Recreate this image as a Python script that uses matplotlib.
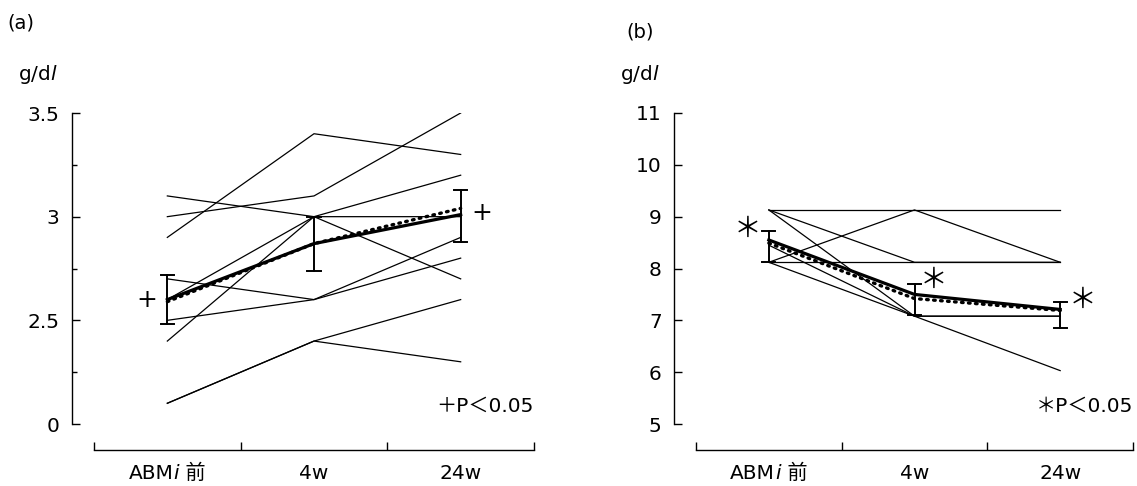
import matplotlib
matplotlib.use("Agg")
import matplotlib.pyplot as plt
from matplotlib.offsetbox import TextArea, HPacker, AnnotationBbox

plt.rcParams['font.family'] = ['DejaVu Sans', 'Noto Sans CJK JP']

# x categories; the first one has an italic "i", so it is also kept in parts
cats = ["ABMi 前", "4w", "24w"]
first_cat_parts = [("ABM", "normal"), ("i", "italic"), (" 前", "normal")]

# (a) individual subjects, g/dl (tick "0" sits at 2.0)
a_subjects = [
    [3.1, 3.0, 2.7],
    [3.0, 3.1, 3.5],
    [2.9, 3.4, 3.3],
    [2.7, 2.6, 2.8],
    [2.6, 3.0, 3.2],
    [2.5, 2.6, 2.9],
    [2.4, 3.0, 3.0],
    [2.1, 2.4, 2.6],
    [2.1, 2.4, 2.3],
]
a_mean = [2.60, 2.87, 3.01]
a_dotted = [2.59, 2.87, 3.04]
a_err_lo = [2.48, 2.74, 2.88]
a_err_hi = [2.72, 3.00, 3.13]
a_yticks = [2.0, 2.5, 3.0, 3.5]
a_yticklabels = ["0", "2.5", "3", "3.5"]
a_minor = [2.25, 2.75, 3.25]

# (b) individual subjects, g/dl
b_subjects = [
    [9.13, 9.13, 9.13],
    [8.12, 9.13, 8.12],
    [9.13, 8.12, 8.12],
    [8.12, 8.12, 8.12],
    [9.13, 7.08, 7.08],
    [8.45, 7.08, 7.08],
    [8.12, 7.08, 6.03],
]
b_mean = [8.55, 7.50, 7.21]
b_dotted = [8.49, 7.42, 7.19]
b_err_lo = [8.12, 7.10, 6.85]
b_err_hi = [8.72, 7.70, 7.35]
b_yticks = [5, 6, 7, 8, 9, 10, 11]
b_yticklabels = ["5", "6", "7", "8", "9", "10", "11"]

fs = 14.5
W, H = 1137, 486
fig = plt.figure(figsize=(W / 100, H / 100), dpi=100)
ax_a = fig.add_axes([94 / W, 62 / H, 440 / W, 311 / H])
ax_b = fig.add_axes([696 / W, 62 / H, 437 / W, 311 / H])


def draw(ax, subjects, mean, dotted, lo, hi, ylim, yticks, yticklabels, minor, mark, offsets, note):
    x = list(range(len(cats)))
    for s in subjects:
        ax.plot(x, s, color="black", lw=0.9)
    ax.plot(x, mean, color="black", lw=2.3)
    ax.plot(x, dotted, color="black", lw=2.4, dashes=(0.5, 1.6), dash_capstyle="round")
    for xi, l, h in zip(x, lo, hi):
        ax.plot([xi, xi], [l, h], color="black", lw=1.4)
        for yy in (l, h):
            ax.plot([xi - 0.045, xi + 0.045], [yy, yy], color="black", lw=1.4)
    for xi, (dx, yv) in zip(x, offsets):
        if dx is None:
            continue
        ax.annotate(mark[0], xy=(xi, yv), xytext=(dx, 0), textcoords="offset points",
                    ha="center", va="center", fontsize=mark[1])
    ax.text(1.0, 0.058, note, transform=ax.transAxes, ha="right", va="center", fontsize=fs)

    ax.set_xlim(-0.5, 2.5)
    ax.set_ylim(*ylim)
    for sp in ("top", "right"):
        ax.spines[sp].set_visible(False)
    ax.spines["left"].set_position(("axes", -22 / 440))
    ax.spines["bottom"].set_position(("axes", -26 / 311))
    for sp in ("left", "bottom"):
        ax.spines[sp].set_linewidth(1.0)

    ax.set_yticks(yticks)
    ax.set_yticklabels(yticklabels, fontsize=fs)
    if minor:
        ax.set_yticks(minor, minor=True)
    ax.tick_params(axis="y", which="major", direction="in", length=6, width=1.0, pad=9)
    ax.tick_params(axis="y", which="minor", direction="in", length=3.5, width=1.0)

    ax.set_xticks([-0.5, 0.5, 1.5, 2.5])
    ax.set_xticklabels([])
    ax.set_xticks(x, minor=True)
    ax.set_xticklabels([""] + cats[1:], minor=True, fontsize=fs)
    ax.tick_params(axis="x", which="major", direction="in", length=6, width=1.0)
    ax.tick_params(axis="x", which="minor", length=0, pad=10)

    # first category label with its italic "i"
    parts = [TextArea(t, textprops=dict(fontsize=fs, style=st)) for t, st in first_cat_parts]
    box = HPacker(children=parts, align="baseline", pad=0, sep=0)
    ab = AnnotationBbox(box, (0, -0.158), xycoords=ax.get_xaxis_transform(),
                        box_alignment=(0.5, 0.5), frameon=False, pad=0,
                        annotation_clip=False)
    ax.add_artist(ab)


draw(ax_a, a_subjects, a_mean, a_dotted, a_err_lo, a_err_hi, (2.0, 3.5),
     a_yticks, a_yticklabels, a_minor, ("+", 18),
     [(-15, 2.60), (None, 0), (15, 3.02)], "＋P＜0.05")
draw(ax_b, b_subjects, b_mean, b_dotted, b_err_lo, b_err_hi, (5, 11),
     b_yticks, b_yticklabels, None, ("＊", 20),
     [(-15, 8.76), (14, 7.78), (16, 7.39)], "＊P＜0.05")

fig.text(7 / W, 1 - 23 / H, "(a)", fontsize=14, va="center", ha="left")
fig.text(626 / W, 1 - 32 / H, "(b)", fontsize=14, va="center", ha="left")
fig.text(18 / W, 1 - 75 / H, "g/d$\\mathit{l}$", fontsize=fs, va="center", ha="left")
fig.text(620 / W, 1 - 75 / H, "g/d$\\mathit{l}$", fontsize=fs, va="center", ha="left")

fig.savefig("out.png", dpi=100)
